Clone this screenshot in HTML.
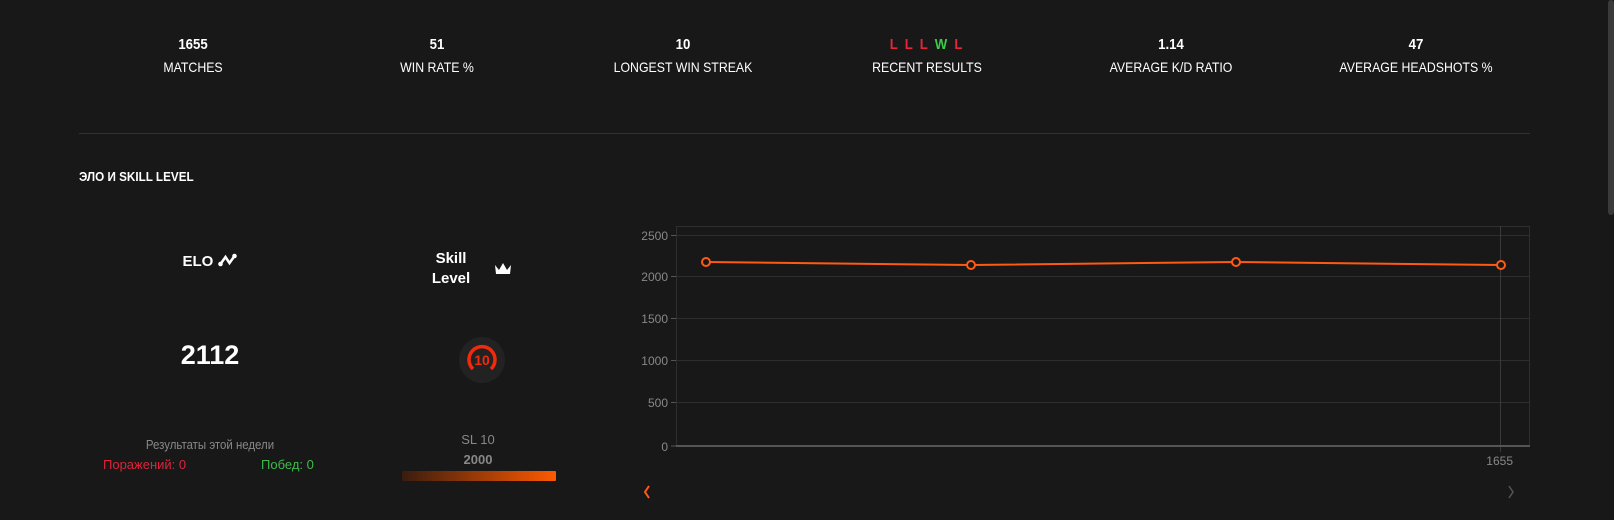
<!DOCTYPE html>
<html><head><meta charset="utf-8"><style>
body{margin:0;width:1614px;height:520px;background:#181818;overflow:hidden;font-family:"Liberation Sans",sans-serif;color:#fff;position:relative}
.a{position:absolute;white-space:nowrap;transform:translateX(-50%)}
.c{transform:translateX(-50%) scaleX(0.88)}
.n{font-weight:bold;font-size:15px}
.l{font-size:14px}
</style></head><body>
<div class="a n c" style="left:193px;top:36px">1655</div><div class="a l c" style="left:193px;top:59px">MATCHES</div>
<div class="a n c" style="left:437px;top:36px">51</div><div class="a l c" style="left:437px;top:59px">WIN RATE %</div>
<div class="a n c" style="left:683px;top:36px">10</div><div class="a l c" style="left:683px;top:59px">LONGEST WIN STREAK</div>
<div class="a n c" style="left:927px;top:36px;letter-spacing:2px;color:#e8233a">L L L <span style="color:#3ccb4a">W</span> L</div><div class="a l c" style="left:927px;top:59px">RECENT RESULTS</div>
<div class="a n c" style="left:1171px;top:36px">1.14</div><div class="a l c" style="left:1171px;top:59px">AVERAGE K/D RATIO</div>
<div class="a n c" style="left:1416px;top:36px">47</div><div class="a l c" style="left:1416px;top:59px">AVERAGE HEADSHOTS %</div>
<div style="position:absolute;left:79px;top:133px;width:1451px;height:1px;background:#333"></div>
<div style="position:absolute;left:79px;top:169px;font-weight:bold;font-size:13px;transform:scaleX(0.9);transform-origin:left">ЭЛО И SKILL LEVEL</div>
<div class="a" style="left:210px;top:253px;font-weight:bold;font-size:15px">ELO <svg width="20" height="14" viewBox="0 0 20 14" style="vertical-align:-1px"><polyline points="3,11 8,4 12,10 17,3" stroke="#fff" stroke-width="2.5" fill="none"/><circle cx="3" cy="11" r="2.3" fill="#fff"/><circle cx="17" cy="3" r="2.3" fill="#fff"/></svg></div>
<div class="a" style="left:451px;top:249px;font-weight:bold;font-size:15px;text-align:center;line-height:20px">Skill<br>Level</div>
<svg style="position:absolute;left:494px;top:262px" width="18" height="14" viewBox="0 0 18 14"><path d="M1 3 L5 8 L9 1 L13 8 L17 3 L16 12 L2 12Z" fill="#fff"/></svg>
<div class="a" style="left:210px;top:340px;font-weight:bold;font-size:27px">2112</div>
<svg style="position:absolute;left:458px;top:336px" width="48" height="48" viewBox="0 0 48 48"><circle cx="24" cy="24" r="23" fill="#222"/><path d="M15 33 A13 13 0 1 1 33 33" stroke="#f22a0c" stroke-width="3.5" fill="none"/><text x="24" y="29" text-anchor="middle" font-family="Liberation Sans" font-weight="bold" font-size="14" fill="#f22a0c">10</text></svg>
<div class="a c" style="left:210px;top:437px;font-size:13px;color:#888">Результаты этой недели</div>
<div style="position:absolute;left:103px;top:457px;font-size:13px;color:#e0233a">Поражений: 0</div>
<div style="position:absolute;left:261px;top:457px;font-size:13px;color:#3cbb4a">Побед: 0</div>
<div class="a" style="left:478px;top:432px;font-size:13px;color:#888">SL 10</div>
<div class="a" style="left:478px;top:452px;font-size:13px;color:#888;font-weight:bold">2000</div>
<div style="position:absolute;left:402px;top:471px;width:154px;height:10px;background:linear-gradient(90deg,#3a1c0e,#ff5a00);border-radius:1px"></div>
<svg style="position:absolute;left:0;top:0" width="1614" height="520">
<g stroke="#2e2e2e" stroke-width="1">
<rect x="676.5" y="226.5" width="853" height="220" fill="none"/>
<line x1="676" y1="235.5" x2="1530" y2="235.5"/><line x1="676" y1="276.5" x2="1530" y2="276.5"/><line x1="676" y1="318.5" x2="1530" y2="318.5"/><line x1="676" y1="360.5" x2="1530" y2="360.5"/><line x1="676" y1="402.5" x2="1530" y2="402.5"/>
<line x1="1500.5" y1="226" x2="1500.5" y2="452" stroke="#3a3a3a"/>
</g>
<line x1="676" y1="446" x2="1530" y2="446" stroke="#555" stroke-width="2"/>
<g stroke="#555"><line x1="671" y1="235.5" x2="676" y2="235.5"/><line x1="671" y1="276.5" x2="676" y2="276.5"/><line x1="671" y1="318.5" x2="676" y2="318.5"/><line x1="671" y1="360.5" x2="676" y2="360.5"/><line x1="671" y1="402.5" x2="676" y2="402.5"/><line x1="671" y1="446" x2="676" y2="446"/></g>
<g font-family="Liberation Sans,sans-serif" font-size="12" fill="#888" text-anchor="end">
<text x="668" y="240">2500</text><text x="668" y="281">2000</text><text x="668" y="323">1500</text><text x="668" y="365">1000</text><text x="668" y="407">500</text><text x="668" y="451">0</text>
<text x="1513" y="465">1655</text></g>
<polyline points="706,262 971,265 1236,262 1501,265" stroke="#ff5a14" stroke-width="2" fill="none"/>
<g stroke="#ff5a14" stroke-width="2" fill="#181818"><circle cx="706" cy="262" r="4"/><circle cx="971" cy="265" r="4"/><circle cx="1236" cy="262" r="4"/><circle cx="1501" cy="265" r="4"/></g>
<polyline points="649,486 645,492 649,498" stroke="#ff5a14" stroke-width="2" fill="none"/>
<polyline points="1509,486 1513,492 1509,498" stroke="#555" stroke-width="1.5" fill="none"/>
</svg>
<div style="position:absolute;left:1608px;top:0;width:6px;height:215px;background:#3a3a3a;border-radius:3px"></div>
</body></html>
